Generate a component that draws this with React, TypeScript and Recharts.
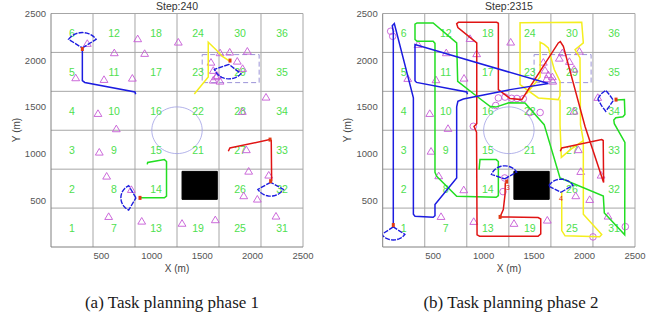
import React from 'react';
import { ScatterChart, Scatter, XAxis, YAxis, ReferenceLine, ReferenceArea } from 'recharts';

type P = [number, number];

// ---------- axes / grid ----------
const axisTicks = [500, 1000, 1500, 2000, 2500];
const gridValues = [416.7, 833.3, 1250, 1666.7, 2083.3, 2500];
const cellCenters = [208.3, 625, 1041.7, 1458.3, 1875, 2291.7];
const cellIds = Array.from({ length: 36 }, (_, i) => i + 1);
const hiddenCells = [20]; // covered by the black obstacle

// ---------- static scene ----------
const obstacleBox = { x1: 1300, x2: 1650, y1: 510, y2: 810 };
const dashedZone = { x1: 1500, x2: 2065, y1: 1760, y2: 2060 };
const ringCenter: P = [1250, 1250];
const ringRadius = 250;

// ---------- phase 1 ----------
const leftTriangles: P[] = [
  [360, 2178], [860, 2228], [1263, 2192], [628, 2078], [929, 2071], [245, 1810], [526, 1792], [807, 1806],
  [1587, 1977], [1677, 2078], [1773, 2085], [1948, 2095], [1848, 1988], [1610, 1889], [1637, 1821], [1610, 1785],
  [1677, 1774], [1650, 1835], [1901, 1910], [2133, 1603], [466, 1428], [648, 1264], [1898, 1450], [479, 1014],
  [552, 757], [797, 614], [572, 325], [900, 275], [1300, 252], [1630, 290], [1938, 1040], [1961, 810],
  [2160, 768], [1912, 547], [2047, 511], [2232, 329],
];
const leftCircles: P[] = [];
const leftBlue: P[] = [[311, 2131], [311, 1781], [335, 1762], [833, 1660], [840, 1635]];
const leftYellow: P[] = [[1422, 1639], [1560, 1821], [1560, 2192], [1640, 2110], [1700, 2040], [1776, 1988]];
const leftGreen: P[] = [[883, 526], [1125, 526], [1146, 545], [1146, 915], [1125, 936], [959, 905], [955, 885]];
const leftRed: P[] = [[1759, 1025], [1775, 1060], [1808, 1067], [2170, 1150], [2185, 1140], [2189, 703]];
const leftFans = [
  { x: 311, y: 2131, dir: 90, hw: 56, r: 165 },
  { x: 1766, y: 1955, dir: 260, hw: 60, r: 155 },
  { x: 843, y: 526, dir: 180, hw: 61, r: 150 },
  { x: 2179, y: 693, dir: 270, hw: 59, r: 148 },
];
const leftLoops: P[][] = [];
const leftMarkers: P[] = [[311, 2120], [1776, 1996], [883, 526], [2179, 705], [2173, 1150]];
const leftTags: { x: number; y: number; t: string }[] = [];

// ---------- phase 2 ----------
const rightTriangles: P[] = [
  [865, 2231], [1268, 2192], [630, 2078], [931, 2068], [350, 2167], [248, 1803], [528, 1789], [806, 1806],
  [1592, 1977], [1750, 2020], [1850, 1985], [1949, 2095], [1780, 2078], [1608, 1892], [1641, 1843], [1681, 1821],
  [1625, 1800], [1685, 1774], [1896, 1903], [2131, 1600], [466, 1428], [647, 1268], [1896, 1453], [479, 1024],
  [555, 761], [803, 611], [578, 325], [902, 272], [1301, 251], [1631, 286], [1939, 1040], [1962, 807],
  [2164, 768], [1913, 547], [2051, 507], [2233, 329],
];
const rightCircles: P[] = [
  [79, 2310], [99, 2256], [1120, 1515], [1146, 1596], [1212, 1605], [1278, 1592], [1330, 1590], [1393, 1588],
  [1460, 1440], [1560, 1440], [898, 1292], [1209, 739], [1192, 593], [2084, 108], [2404, 218],
];
const rightBlue: P[] = [
  [840, 1635], [833, 1660], [335, 1762], [320, 1780], [320, 2167], [1641, 1750], [1262, 1685], [799, 1585],
  [745, 1560], [733, 1500], [733, 740], [518, 454], [518, 335], [500, 318], [320, 330], [304, 350],
  [304, 1596], [115, 2392], [95, 2370], [105, 2300], [105, 215],
];
const rightGreen: P[] = [
  [955, 829], [964, 936], [1125, 936], [1146, 915], [1146, 550], [1125, 532], [733, 543], [535, 757],
  [518, 800], [518, 2180], [500, 2202], [340, 2202], [320, 2222], [320, 2385], [340, 2399], [500, 2399],
  [733, 2185], [743, 1774], [932, 1614], [1063, 1507], [1120, 1498], [1250, 1545], [1410, 1543], [1600, 1310],
  [1757, 740], [2186, 545], [2196, 365], [2398, 130], [2400, 1120], [2295, 1320], [2290, 1360], [2310, 1385],
  [2380, 1395], [2400, 1420], [2395, 1578], [2319, 1575],
];
const rightRed: P[] = [
  [1759, 1025], [1775, 1060], [1808, 1067], [2170, 1150], [2185, 1140], [2189, 690], [2005, 1290], [1790, 2149],
  [1760, 2200], [1740, 2185], [1378, 1578], [1262, 1589], [1146, 1685], [1146, 2395], [1130, 2405], [750, 2405],
  [733, 2390], [745, 2350], [932, 2185], [932, 1320], [905, 1290], [930, 1230], [935, 130], [960, 115],
  [1540, 115], [1566, 140], [1566, 300], [1540, 315], [1163, 322], [1195, 400], [1212, 560], [1215, 690],
];
const rightYellowA: P[] = [
  [1422, 1639], [1560, 1821], [1560, 2192], [1600, 2170], [1641, 2132], [1700, 1900], [1757, 1774], [1757, 1620],
  [1740, 1578], [1542, 1596], [1427, 1685], [1361, 1739], [1361, 2400], [1972, 2405], [1988, 2185], [1906, 2113],
  [1955, 2025], [1960, 1310], [1988, 1140], [1988, 350], [2170, 133], [2150, 110], [1807, 120], [1774, 176],
  [1774, 590],
];
const rightYellowB: P[] = [[1757, 1580], [1757, 1310], [1770, 960], [1860, 1043], [1988, 1140]];
const rightFans = [
  { x: 105, y: 215, dir: 270, hw: 55, r: 140 },
  { x: 1209, y: 729, dir: 96, hw: 64, r: 140 },
  { x: 1767, y: 586, dir: 92, hw: 60, r: 140 },
];
const rightLoops: P[][] = [
  [[2131, 1586], [2165, 1640], [2210, 1678], [2250, 1625], [2286, 1571], [2245, 1505], [2210, 1453], [2170, 1510], [2131, 1586]],
];
const rightMarkers: P[] = [[105, 235], [2312, 1578], [1229, 700], [1163, 322]];
const rightTags = [
  { x: 1240, y: 640, t: '3' },
  { x: 1767, y: 520, t: '4' },
];

// ---------- colours ----------
const C_BLUE = '#1c1ce0';
const C_GREEN = '#22de22';
const C_RED = '#e01414';
const C_YELLOW = '#f4ee1e';
const C_LABEL = '#4ee04e';
const C_TRI = '#c65ad6';
const C_GRID = '#a6a6a6';
const FONT = 'Liberation Sans, Arial, sans-serif';

const xy = (pts: P[]) => pts.map(([x, y]) => ({ x, y }));

function fanPath(f: { x: number; y: number; dir: number; hw: number; r: number }): P[] {
  const out: P[] = [[f.x, f.y]];
  const n = 14;
  for (let i = 0; i <= n; i++) {
    const a = ((f.dir - f.hw + (2 * f.hw * i) / n) * Math.PI) / 180;
    out.push([f.x + f.r * Math.cos(a), f.y + f.r * Math.sin(a)]);
  }
  out.push([f.x, f.y]);
  return out;
}

function ringPath(): P[] {
  const out: P[] = [];
  for (let i = 0; i <= 60; i++) {
    const a = (i / 60) * 2 * Math.PI;
    out.push([ringCenter[0] + ringRadius * Math.cos(a), ringCenter[1] + ringRadius * Math.sin(a)]);
  }
  return out;
}

const noDot = () => <g />;

const TriShape = (p: any) => (
  <path
    d={`M${p.cx},${p.cy - 3.8} L${p.cx + 3.9},${p.cy + 2.8} L${p.cx - 3.9},${p.cy + 2.8} Z`}
    fill="none"
    stroke={C_TRI}
    strokeWidth={0.9}
  />
);
const CircShape = (p: any) => <circle cx={p.cx} cy={p.cy} r={3.3} fill="none" stroke={C_TRI} strokeWidth={0.9} />;
const MarkShape = (p: any) => <rect x={p.cx - 1.5} y={p.cy - 2} width={3} height={4} fill="#e03a14" />;
const LabelShape = (p: any) => (
  <text x={p.cx} y={p.cy} fill={C_LABEL} fontSize={10.5} fontFamily={FONT} textAnchor="middle" dominantBaseline="central">
    {p.payload.t}
  </text>
);
const TagShape = (p: any) => (
  <text x={p.cx} y={p.cy} fill={C_RED} fontSize={7} fontFamily={FONT} textAnchor="middle" dominantBaseline="central">
    {p.payload.t}
  </text>
);

const cellLabelData = cellIds
  .filter((id) => !hiddenCells.includes(id))
  .map((id) => ({
    x: cellCenters[Math.floor((id - 1) / 6)],
    y: cellCenters[(id - 1) % 6],
    t: String(id),
  }));

type PanelProps = {
  width: number;
  marginLeft: number;
  marginRight: number;
  triangles: P[];
  circles: P[];
  paths: { pts: P[]; color: string }[];
  fans: { x: number; y: number; dir: number; hw: number; r: number }[];
  loops: P[][];
  markers: P[];
  tags: { x: number; y: number; t: string }[];
};

function Panel(props: PanelProps) {
  const line = (pts: P[], color: string, w: number, dash?: string, key?: string) => (
    <Scatter
      key={key}
      data={xy(pts)}
      fill={color}
      line={{ stroke: color, strokeWidth: w, strokeDasharray: dash, fill: 'none' }}
      lineType="joint"
      shape={noDot}
      isAnimationActive={false}
    />
  );
  return (
    <ScatterChart
      width={props.width}
      height={275}
      margin={{ top: 13.5, right: props.marginRight, bottom: 8, left: props.marginLeft }}
    >
      <XAxis
        type="number"
        dataKey="x"
        domain={[0, 2500]}
        ticks={axisTicks}
        allowDataOverflow
        height={20}
        tickSize={3}
        tickLine={false}
        axisLine={{ stroke: '#808080' }}
        tick={{ fontSize: 9.5, fill: '#555', fontFamily: FONT }}
      />
      <YAxis
        type="number"
        dataKey="y"
        domain={[0, 2500]}
        ticks={axisTicks}
        allowDataOverflow
        width={30}
        tickSize={3}
        tickLine={false}
        axisLine={{ stroke: '#808080' }}
        tick={{ fontSize: 9.5, fill: '#555', fontFamily: FONT }}
      />
      {gridValues.map((v) => (
        <ReferenceLine key={'gx' + v} x={v} stroke={C_GRID} strokeWidth={1} />
      ))}
      {gridValues.map((v) => (
        <ReferenceLine key={'gy' + v} y={v} stroke={C_GRID} strokeWidth={1} />
      ))}
      <ReferenceArea {...obstacleBox} fill="#000" fillOpacity={1} stroke="#000" />
      <ReferenceArea {...dashedZone} fill="none" fillOpacity={0} stroke="#9c94d8" strokeWidth={1} strokeDasharray="5 3" />
      {line(ringPath(), '#a0a0e4', 0.8, undefined, 'ring')}
      <Scatter data={cellLabelData} shape={LabelShape} isAnimationActive={false} />
      <Scatter data={xy(props.triangles)} shape={TriShape} isAnimationActive={false} />
      <Scatter data={xy(props.circles)} shape={CircShape} isAnimationActive={false} />
      {props.paths.map((p, i) => line(p.pts, p.color, 1.5, undefined, 'p' + i))}
      {props.fans.map((f, i) => line(fanPath(f), C_BLUE, 1.4, '5 1.2', 'f' + i))}
      {props.loops.map((l, i) => line(l, C_BLUE, 1.4, '5 1.2', 'l' + i))}
      <Scatter data={xy(props.markers)} shape={MarkShape} isAnimationActive={false} />
      <Scatter data={props.tags} shape={TagShape} isAnimationActive={false} />
    </ScatterChart>
  );
}

const txt: React.CSSProperties = { position: 'absolute', fontFamily: FONT, color: '#444', whiteSpace: 'nowrap' };
const capStyle: React.CSSProperties = {
  ...txt,
  top: 293,
  transform: 'translateX(-50%)',
  fontSize: 17,
  color: '#1a1a1a',
  fontFamily: 'Liberation Serif, Times New Roman, serif',
};

export default function App() {
  return (
    <div style={{ position: 'absolute', left: 0, top: 0, width: 658, height: 324, background: '#fff' }}>
      <div style={{ position: 'absolute', left: 0, top: 0 }}>
        <Panel
          width={329}
          marginLeft={21}
          marginRight={26}
          triangles={leftTriangles}
          circles={leftCircles}
          paths={[
            { pts: leftYellow, color: C_YELLOW },
            { pts: leftGreen, color: C_GREEN },
            { pts: leftRed, color: C_RED },
            { pts: leftBlue, color: C_BLUE },
          ]}
          fans={leftFans}
          loops={leftLoops}
          markers={leftMarkers}
          tags={leftTags}
        />
      </div>
      <div style={{ position: 'absolute', left: 330, top: 0 }}>
        <Panel
          width={328}
          marginLeft={22.7}
          marginRight={23}
          triangles={rightTriangles}
          circles={rightCircles}
          paths={[
            { pts: rightYellowA, color: C_YELLOW },
            { pts: rightYellowB, color: C_YELLOW },
            { pts: rightGreen, color: C_GREEN },
            { pts: rightRed, color: C_RED },
            { pts: rightBlue, color: C_BLUE },
          ]}
          fans={rightFans}
          loops={rightLoops}
          markers={rightMarkers}
          tags={rightTags}
        />
      </div>
      <div style={{ ...txt, left: 177, top: 0, transform: 'translateX(-50%)', fontSize: 10.5, color: '#333' }}>Step:240</div>
      <div style={{ ...txt, left: 509, top: 0, transform: 'translateX(-50%)', fontSize: 10.5, color: '#333' }}>Step:2315</div>
      <div style={{ ...txt, left: 177, top: 263, transform: 'translateX(-50%)', fontSize: 10 }}>X (m)</div>
      <div style={{ ...txt, left: 509, top: 263, transform: 'translateX(-50%)', fontSize: 10 }}>X (m)</div>
      <div style={{ ...txt, left: 16, top: 130, transform: 'translate(-50%, -50%) rotate(-90deg)', fontSize: 10 }}>Y (m)</div>
      <div style={{ ...txt, left: 347, top: 130, transform: 'translate(-50%, -50%) rotate(-90deg)', fontSize: 10 }}>Y (m)</div>
      <div style={{ ...capStyle, left: 172 }}>(a) Task planning phase 1</div>
      <div style={{ ...capStyle, left: 511 }}>(b) Task planning phase 2</div>
    </div>
  );
}
